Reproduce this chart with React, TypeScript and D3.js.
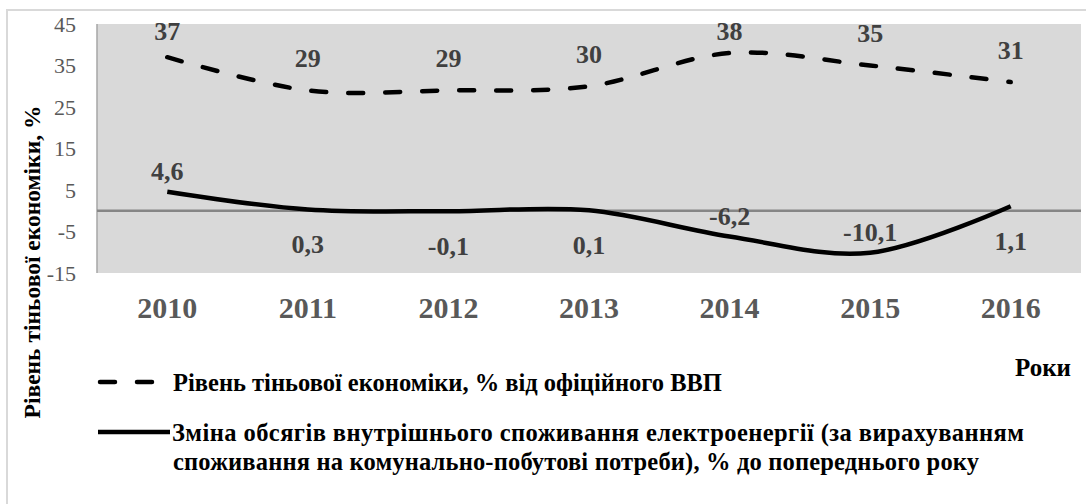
import React from "react";
import * as d3 from "d3";

const years = ["2010", "2011", "2012", "2013", "2014", "2015", "2016"];
const shadowEconomy = [37, 29, 29, 30, 38, 35, 31];
const electricityChange = [4.6, 0.3, -0.1, 0.1, -6.2, -10.1, 1.1];
const electricityLabelPos = ["above", "below", "below", "below", "above", "above", "below"];
const yTicks = [-15, -5, 5, 15, 25, 35, 45];
const seriesNames = [
  "Рівень тіньової економіки, % від офіційного ВВП",
  "Зміна обсягів внутрішнього споживання електроенергії (за вирахуванням",
  "споживання на комунально-побутові потреби), % до попереднього року",
];
const yAxisTitle = "Рівень тіньової економіки, %";
const xAxisTitle = "Роки";

const W = 1086;
const H = 504;
const plot = { left: 97, right: 1081, top: 24, bottom: 273 };
const FONT = "'Liberation Serif', 'DejaVu Serif', serif";

const fmt = (v: number) => String(v).replace(".", ",");

export default function App() {
  const x = d3.scaleBand<string>().domain(years).range([plot.left, plot.right]).padding(0);
  const cx = (y: string) => (x(y) ?? 0) + x.bandwidth() / 2;
  const y = d3.scaleLinear().domain([-15, 45]).range([plot.bottom, plot.top]);

  const line = d3
    .line<number>()
    .x((_, i) => cx(years[i]))
    .y((d) => y(d))
    .curve(d3.curveCardinal.tension(0));

  return (
    <svg
      width={W}
      height={H}
      style={{ position: "absolute", left: 0, top: 0, background: "#fff" }}
      fontFamily={FONT}
    >
      <rect x={7} y={10} width={W + 10} height={H + 10} fill="#fff" stroke="#d9d9d9" strokeWidth={2} />
      <rect
        x={plot.left}
        y={plot.top}
        width={plot.right - plot.left}
        height={plot.bottom - plot.top}
        fill="#d9d9d9"
      />
      <line x1={plot.left} x2={plot.left} y1={plot.top} y2={plot.bottom} stroke="#a6a6a6" strokeWidth={1.5} />
      <line x1={plot.left} x2={plot.right} y1={y(0)} y2={y(0)} stroke="#868686" strokeWidth={2.5} />

      {yTicks.map((t) => (
        <text
          key={t}
          x={76}
          y={y(t)}
          textAnchor="end"
          dominantBaseline="central"
          fontSize={22}
          fill="#595959"
        >
          {t}
        </text>
      ))}

      {years.map((yr) => (
        <text
          key={yr}
          x={cx(yr)}
          y={307}
          textAnchor="middle"
          dominantBaseline="central"
          fontSize={30}
          fontWeight="bold"
          fill="#595959"
        >
          {yr}
        </text>
      ))}

      <path
        d={line(shadowEconomy) ?? ""}
        fill="none"
        stroke="#000"
        strokeWidth={4.5}
        strokeDasharray="15 22"
        strokeLinecap="round"
      />
      <path d={line(electricityChange) ?? ""} fill="none" stroke="#000" strokeWidth={4.5} />

      {shadowEconomy.map((v, i) => (
        <text
          key={"s" + i}
          x={cx(years[i])}
          y={Math.max(y(v) - 32, 31)}
          textAnchor="middle"
          dominantBaseline="central"
          fontSize={26}
          fontWeight="bold"
          fill="#404040"
        >
          {fmt(v)}
        </text>
      ))}

      {electricityChange.map((v, i) => (
        <text
          key={"e" + i}
          x={cx(years[i])}
          y={electricityLabelPos[i] === "above" ? y(v) - 20 : y(v) + 35}
          textAnchor="middle"
          dominantBaseline="central"
          fontSize={26}
          fontWeight="bold"
          fill="#404040"
        >
          {fmt(v)}
        </text>
      ))}

      <text
        transform={`translate(40, 262) rotate(-90)`}
        textAnchor="middle"
        fontSize={23.5}
        fontWeight="bold"
        fill="#000"
      >
        {yAxisTitle}
      </text>

      <text x={1043} y={367} textAnchor="middle" dominantBaseline="central" fontSize={25} fontWeight="bold" fill="#000">
        {xAxisTitle}
      </text>

      <line x1={100} x2={156} y1={382} y2={382} stroke="#000" strokeWidth={4.5} strokeDasharray="15 22" strokeLinecap="round" />
      <text x={173} y={382} dominantBaseline="central" fontSize={24.5} fontWeight="bold" fill="#000">
        {seriesNames[0]}
      </text>
      <line x1={98} x2={170} y1={432} y2={432} stroke="#000" strokeWidth={4.5} />
      <text
        x={172}
        y={432}
        dominantBaseline="central"
        fontSize={24.5}
        fontWeight="bold"
        fill="#000"
        textLength={852}
        lengthAdjust="spacing"
      >
        {seriesNames[1]}
      </text>
      <text
        x={173}
        y={461}
        dominantBaseline="central"
        fontSize={24.5}
        fontWeight="bold"
        fill="#000"
        textLength={806}
        lengthAdjust="spacing"
      >
        {seriesNames[2]}
      </text>
    </svg>
  );
}
